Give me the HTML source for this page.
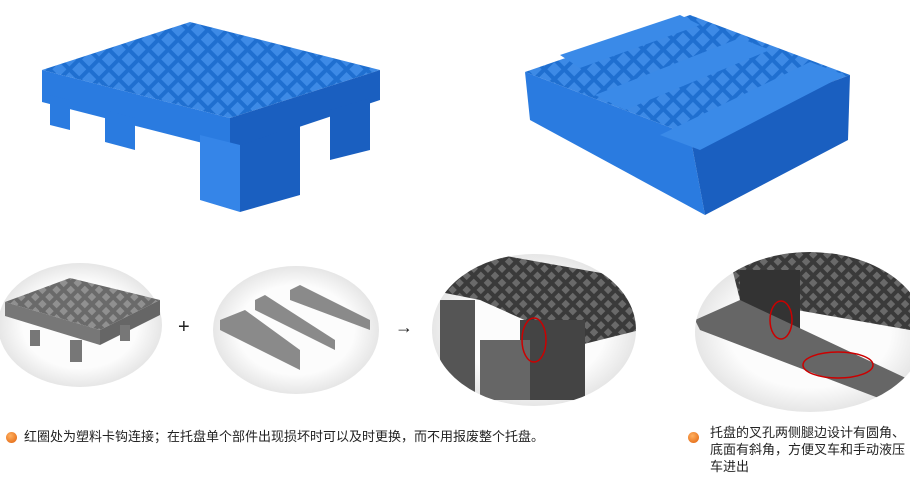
<!DOCTYPE html>
<html><head><meta charset="utf-8"><style>
body{margin:0;width:910px;height:485px;background:#fff;overflow:hidden;position:relative;font-family:"Liberation Sans","Noto Sans CJK SC",sans-serif}
.t{position:absolute;font-size:13px;color:#222;line-height:17px}
.dot{position:absolute;width:11px;height:11px;border-radius:50%;background:radial-gradient(circle at 40% 35%,#ffb060,#e0600a)}
</style></head><body>
<svg width="910" height="485" style="position:absolute;left:0;top:0">
<defs>
<pattern id="g" width="14" height="14" patternUnits="userSpaceOnUse" patternTransform="rotate(45)"><rect width="14" height="14" fill="#1f6fd0"/><rect x="2" y="2" width="10" height="10" fill="#3d8ae6"/></pattern>
<pattern id="d" width="10" height="10" patternUnits="userSpaceOnUse" patternTransform="rotate(45)"><rect width="10" height="10" fill="#3a3a3a"/><rect x="2" y="2" width="6" height="6" fill="#6a6a6a"/></pattern>
<pattern id="l" width="10" height="10" patternUnits="userSpaceOnUse" patternTransform="rotate(45)"><rect width="10" height="10" fill="#6a6a6a"/><rect x="2" y="2" width="6" height="6" fill="#909090"/></pattern>
<radialGradient id="c"><stop offset="0.7" stop-color="#fcfcfc"/><stop offset="1" stop-color="#e6e6e6"/></radialGradient>
</defs>
<polygon points="42,70 190,22 380,70 230,118" fill="url(#g)"/>
<polygon points="42,70 230,118 230,150 42,102" fill="#2a7be0"/>
<polygon points="230,118 380,70 380,100 230,150" fill="#1a5fc0"/>
<polygon points="50,95 70,100 70,130 50,125" fill="#2a7be0"/>
<polygon points="105,110 135,118 135,150 105,142" fill="#2a7be0"/>
<polygon points="200,135 240,145 240,212 200,200" fill="#3585e8"/>
<polygon points="240,145 300,125 300,195 240,212" fill="#1a5fc0"/>
<polygon points="330,110 370,98 370,150 330,160" fill="#1a5fc0"/>
<polygon points="525,72 690,15 850,75 690,135" fill="url(#g)"/>
<polygon points="525,72 690,135 705,215 530,120" fill="#2a7be0"/>
<polygon points="690,135 850,75 848,140 705,215" fill="#1a5fc0"/>
<polygon points="560,55 680,15 700,25 580,68" fill="#3a8ae8"/>
<polygon points="595,95 740,38 770,50 625,110" fill="#3a8ae8"/>
<polygon points="660,135 810,62 845,75 700,150" fill="#3a8ae8"/>
<ellipse cx="80" cy="325" rx="82" ry="62" fill="url(#c)"/>
<ellipse cx="296" cy="330" rx="83" ry="64" fill="url(#c)"/>
<ellipse cx="534" cy="330" rx="102" ry="76" fill="url(#c)"/>
<ellipse cx="810" cy="332" rx="115" ry="80" fill="url(#c)"/>
<polygon points="5,302 70,278 160,300 100,330" fill="url(#l)"/>
<polygon points="5,302 100,330 100,345 5,316" fill="#777"/>
<polygon points="100,330 160,300 160,315 100,345" fill="#666"/>
<rect x="70" y="340" width="12" height="22" fill="#777"/><rect x="30" y="330" width="10" height="16" fill="#777"/><rect x="120" y="325" width="10" height="16" fill="#777"/>
<g fill="#8a8a8a"><polygon points="220,320 245,310 300,350 300,370 220,330"/><polygon points="255,300 265,295 335,340 335,350 255,310"/><polygon points="290,290 300,285 370,320 370,330 290,300"/></g>
<text x="178" y="333" font-size="20" fill="#222">+</text>
<text x="395" y="333" font-size="18" fill="#222">→</text>
<clipPath id="c3"><ellipse cx="534" cy="330" rx="102" ry="76"/></clipPath>
<g clip-path="url(#c3)"><polygon points="430,290 500,255 640,280 640,330 580,345 480,300" fill="url(#d)"/><rect x="440" y="300" width="35" height="100" fill="#555"/><rect x="520" y="320" width="65" height="80" fill="#444"/><rect x="480" y="340" width="50" height="60" fill="#666"/></g>
<ellipse cx="534" cy="340" rx="12" ry="22" fill="none" stroke="#c00" stroke-width="1.5"/>
<clipPath id="c4"><ellipse cx="810" cy="332" rx="115" ry="80"/></clipPath>
<g clip-path="url(#c4)"><polygon points="730,260 790,250 910,260 910,330 740,300" fill="url(#d)"/><rect x="740" y="270" width="60" height="70" fill="#333"/><polygon points="695,320 740,300 910,380 910,410 700,330" fill="#666"/></g>
<ellipse cx="781" cy="320" rx="11" ry="19" fill="none" stroke="#c00" stroke-width="1.5"/>
<ellipse cx="838" cy="365" rx="35" ry="13" fill="none" stroke="#c00" stroke-width="1.5"/>
</svg>
<div class="dot" style="left:6px;top:432px"></div>
<div class="t" style="left:24px;top:428px">红圈处为塑料卡钩连接；在托盘单个部件出现损坏时可以及时更换，而不用报废整个托盘。</div>
<div class="dot" style="left:688px;top:432px"></div>
<div class="t" style="left:710px;top:424px;width:205px">托盘的叉孔两侧腿边设计有圆角、底面有斜角，方便叉车和手动液压车进出</div>
</body></html>
